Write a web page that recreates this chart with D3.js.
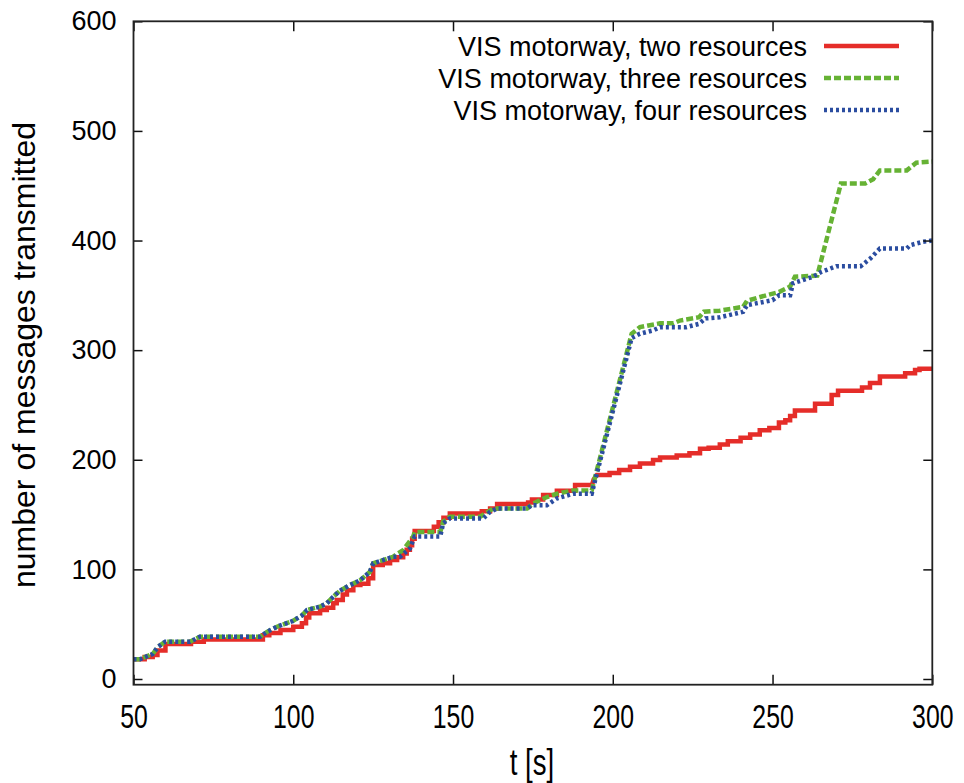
<!DOCTYPE html>
<html>
<head>
<meta charset="utf-8">
<script src="https://cdn.jsdelivr.net/npm/d3@7/dist/d3.min.js"></script>
<style>
  html, body { margin: 0; padding: 0; background: #fff; }
  svg { display: block; font-family: "Liberation Sans", Arial, Helvetica, sans-serif; }
</style>
</head>
<body>
<svg id="chart" width="964" height="783"></svg>
<script>
// Cumulative messages transmitted over time, VIS motorway scenario.
// Each series is a list of [time (s), messages] corner points.
const seriesNames = [
  "VIS motorway, two resources",
  "VIS motorway, three resources",
  "VIS motorway, four resources"
];

const twoResources = [
  [50,18],[53.5,18],[53.5,20],[56,20],[56,22],[57.5,22],[57.5,26],[60,26],[60,32],[68,32],[68,34],[72,34],[72,36],
  [90.5,36],[90.5,40],[92.5,40],[92.5,42],[96,42],[96,44.7],[100,44.7],[100,47.7],[102.7,47.7],[102.7,50.8],
  [104,50.8],[104,56],[105,56],[105,60],[108.4,60],[108.4,63],[110.5,63],[110.5,65],[112.5,65],[112.5,69],
  [113.6,69],[113.6,72],[115.5,72],[115.5,77],[116.8,77],[116.8,81],[118.8,81],[118.8,85.7],[121,85.7],[121,87],
  [123.5,87],[123.5,91.8],[125,91.8],[125,104],[128,104],[128,105.5],[130.3,105.5],[130.3,108.5],[132.5,108.5],
  [132.5,111],[134.4,111],[134.4,114.6],[135.5,114.6],[135.5,118],[136.5,118],[136.5,122],[137.2,122],[137.2,128],
  [138,128],[138,135],[144,135],[144,139],[145.5,139],[145.5,143],[147,143],[147,147],[149,147],[149,151],
  [159,151],[159,153],[161.6,153],[161.6,155.6],[163.8,155.6],[163.8,159.6],[173.5,159.6],[173.5,161],[174.7,161],
  [174.7,163.8],[178.2,163.8],[178.2,167.8],[182.5,167.8],[182.5,171.7],[188.2,171.7],[188.2,177],[193.5,177],
  [194,182],[195,186],[199,186],[199,188],[202,188],[202,190.6],[205.4,190.6],[205.4,193.6],[208.5,193.6],
  [208.5,196.7],[212.6,196.7],[212.6,199.7],[214.8,199.7],[214.8,202],[220,202],[220,204],[224,204],[224,206],
  [227.3,206],[227.3,210],[230,210],[230,211],[233.5,211],[233.5,214],[236,214],[236,217],[240,217],[240,220],
  [243,220],[243,223],[246,223],[246,227],[249,227],[249,229],[252,229],[252,234],[254,234],[254,236],[255.5,236],
  [255.5,240],[257,240],[257,245],[263.3,245],[263.3,251],[268.5,251],[268.5,259],[270.5,259],[270.5,263],
  [278,263],[278,266],[280.5,266],[280.5,270],[283.6,270],[283.6,276],[291.5,276],[291.5,279],[294.6,279],
  [294.6,282],[296,282],[296,283],[300,283]
];

const threeResources = [
  [50,18],[52,18],[53.6,20],[56,22.8],[57.7,29.5],[59.9,34],[67.7,34],[70.8,38.6],[89.6,38.6],[91.8,43],
  [94.9,47.7],[99.9,53],[102.7,58],[104.3,63],[108.4,66],[110.5,69],[112.5,75],[114.6,80.5],[117.8,85.7],
  [120.9,90],[124,97.8],[125,105.5],[128.1,108.5],[131.2,111.5],[134.4,117.6],[137.5,129.8],[138,134],
  [146,134],[146.9,143.5],[149,148],[158.5,148],[162.6,155.6],[173.2,155.6],[175,160],[179.4,166],
  [182.5,169],[187.6,172],[193.4,172],[205.9,315],[208.5,321],[214.8,324.5],[219,324.5],[221,327],[227,330],
  [228.5,335],[233.5,336],[240.8,339.5],[242,345],[248,350],[252,353],[255.5,358],[257,367],[264,368],
  [271.4,452],[279,452],[281.5,456],[283.6,464],[292,464],[295,471],[300,472]
];

const fourResources = [
  [50,18],[52,18],[53.6,20],[56,22.8],[57.7,29.5],[59.9,34],[67.7,34],[70.8,38.6],[89.6,38.6],[91.8,43],
  [94.9,47.7],[99.9,53],[102.7,58],[104.3,63],[108.4,66],[110.5,69],[112.5,75],[114.6,80.5],[117.8,85.7],
  [120.9,90],[124,97.8],[125,105.5],[128.1,108.5],[131.2,111.5],[133.4,111.5],[136.5,119],[138,130],
  [146,130],[146.9,142],[149,146.5],[159.5,146.5],[161.6,152.5],[163.8,155.6],[173.2,155.6],[174.7,158.6],
  [179.4,158.6],[182.5,164.7],[187.6,169],[193.4,169],[205.9,311],[208.5,315],[212.6,318],[214.8,321],
  [223,321],[227,324],[229,329],[233.5,330],[240.8,335],[242,341],[250,345.6],[252,350],[255.5,350],
  [256.4,361],[262.7,367],[265,371],[270,376.6],[277.6,376.6],[280.6,383.6],[283.6,392.7],[292,392.7],
  [293,395.7],[297,398.8],[300,400]
];

const xTicks = [50, 100, 150, 200, 250, 300];
const yTicks = [0, 100, 200, 300, 400, 500, 600];
const xTitle = "t [s]";
const yTitle = "number of messages transmitted";

const styles = [
  { color: "#e52d29", dash: null },
  { color: "#66b234", dash: "7,3" },
  { color: "#2b4da0", dash: "3,3" }
];

const svg = d3.select("#chart");
const plotLeft = 133.5, plotRight = 932.3, plotTop = 21.3, plotBottom = 684.7;

const x = d3.scaleLinear().domain([50, 300]).range([plotLeft, plotRight]);
const y = d3.scaleLinear().domain([0, 600]).range([679, plotTop]);

// Series lines, clipped to the plot frame
svg.append("clipPath").attr("id", "plotClip")
  .append("rect").attr("x", plotLeft).attr("y", plotTop)
  .attr("width", plotRight - plotLeft).attr("height", plotBottom - plotTop);

const line = d3.line().x(d => x(d[0])).y(d => y(d[1]));
const data = [twoResources, threeResources, fourResources];

const plot = svg.append("g").attr("clip-path", "url(#plotClip)");
data.forEach((series, i) => {
  plot.append("path")
    .datum(series)
    .attr("d", line)
    .attr("fill", "none")
    .attr("stroke", styles[i].color)
    .attr("stroke-width", 4.5)
    .attr("stroke-linejoin", "miter")
    .attr("stroke-dasharray", styles[i].dash);
});

// Axes with inward ticks, mirrored on the opposite sides
const fontSize = 27;
const yAxis = d3.axisLeft(y).tickValues(yTicks).tickSizeInner(-9).tickSizeOuter(0).tickPadding(17);
const yAxisR = d3.axisRight(y).tickValues(yTicks).tickSizeInner(-9).tickSizeOuter(0).tickFormat("");
const xAxis = d3.axisBottom(x).tickValues(xTicks).tickSizeInner(-10).tickSizeOuter(0);
const xAxisT = d3.axisTop(x).tickValues(xTicks).tickSizeInner(-10).tickSizeOuter(0).tickFormat("");

function styleAxis(g) {
  g.select(".domain").remove();
  g.selectAll(".tick line").attr("stroke", "#111").attr("stroke-width", 1.5);
  g.selectAll(".tick text").attr("fill", "#000").attr("font-size", fontSize)
    .attr("font-family", "'Liberation Sans', Arial, Helvetica, sans-serif");
}

svg.append("g").attr("transform", `translate(${plotLeft},0)`).call(yAxis).call(styleAxis);
svg.append("g").attr("transform", `translate(${plotRight},0)`).call(yAxisR).call(styleAxis);
svg.append("g").attr("transform", `translate(0,${plotBottom})`).call(xAxis).call(styleAxis)
  // the time labels use a narrower, taller glyph shape
  .selectAll(".tick text")
  .attr("y", 0).attr("dy", 0)
  .attr("transform", "translate(0,43) scale(0.92,1.2)");
svg.append("g").attr("transform", `translate(0,${plotTop})`).call(xAxisT).call(styleAxis);

// Plot frame
svg.append("rect")
  .attr("x", plotLeft).attr("y", plotTop)
  .attr("width", plotRight - plotLeft).attr("height", plotBottom - plotTop)
  .attr("fill", "none").attr("stroke", "#222").attr("stroke-width", 1.8);

// Axis titles
svg.append("text")
  .attr("transform", `translate(${(plotLeft + plotRight) / 2 - 1},775) scale(0.92,1.25)`)
  .attr("text-anchor", "middle").attr("font-size", 30)
  .text(xTitle);

svg.append("text")
  .attr("transform", `translate(35,${(plotTop + plotBottom) / 2 + 2}) rotate(-90)`)
  .attr("text-anchor", "middle").attr("font-size", 32)
  .text(yTitle);

// Legend
const legend = svg.append("g");
const rowY = [46, 78, 110];
seriesNames.forEach((name, i) => {
  legend.append("text")
    .attr("x", 807).attr("y", rowY[i] + 9.5)
    .attr("text-anchor", "end").attr("font-size", fontSize)
    .text(name);
  legend.append("line")
    .attr("x1", 824).attr("x2", 899)
    .attr("y1", rowY[i]).attr("y2", rowY[i])
    .attr("stroke", styles[i].color).attr("stroke-width", 4.5)
    .attr("stroke-dasharray", styles[i].dash);
});
</script>
</body>
</html>
